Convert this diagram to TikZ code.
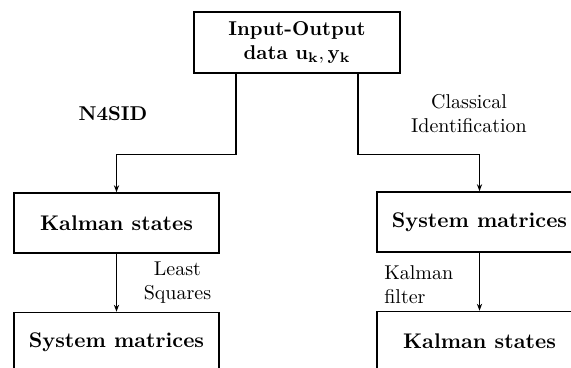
\documentclass[tikz,border=0pt]{standalone}
\usepackage{tikz}
\usetikzlibrary{positioning,arrows.meta}

\begin{document}
\begin{tikzpicture}[
  node distance=29pt and 10mm,
  box/.style={draw, line width=0.75pt, minimum width=102.5pt, minimum height=30pt, align=center, font=\fontsize{10.6}{13}\selectfont\bfseries},
  flow/.style={draw, line width=0.6pt, -{Stealth[length=3.5pt,width=2.6pt]}},
  lbl/.style={align=center, font=\normalsize}
]
  % page frame, boxes on the right and bottom run past it
  \clip (-148.5pt,21.25pt) rectangle (137pt,-162.75pt);

  \node[box, minimum width=103pt, minimum height=30.5pt, font=\bfseries] (io) at (0,0) {Input-Output\\data $\mathbf{u_k},\mathbf{y_k}$};

  % subspace route
  \node[box] (kal1) at (-90.25pt,-90.25pt) {Kalman states};
  \node[box, below=of kal1] (sys1) {System matrices};

  % classical route
  \node[box] (sys2) at (91.25pt,-89.75pt) {System matrices};
  \node[box, below=of sys2] (kal2) {Kalman states};

  \draw[flow] ([xshift=-30.5pt]io.south) -- ++(0,-40.5pt) -| (kal1.north);
  \draw[flow] ([xshift=30.5pt]io.south) -- ++(0,-40.5pt) -| (sys2.north);
  \draw[flow] (kal1) -- node[lbl, right=10pt]{Least\\Squares} (sys1);
  \draw[flow] (sys2) -- node[lbl, align=left, left=9.5pt, yshift=-1.5pt]{Kalman\\filter} (kal2);

  \node[font=\bfseries] (n4sid) at (-92pt,-35.75pt) {N4SID};
  \node[lbl] (classic) at (86pt,-35.75pt) {Classical\\Identification};

\end{tikzpicture}
\end{document}
